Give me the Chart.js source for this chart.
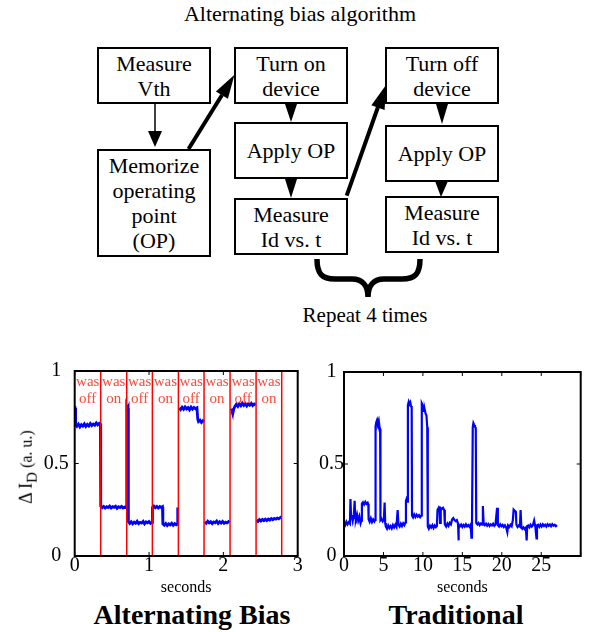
<!DOCTYPE html>
<html>
<head>
<meta charset="utf-8">
<script src="https://cdn.jsdelivr.net/npm/chart.js@4"></script>
<style>
  body { margin: 0; background: #fff; font-family: 'Liberation Serif', serif; color: #000; }
  #page { position: relative; width: 595px; height: 632px; overflow: hidden; }
  .txt { position: absolute; transform: translate(-50%, -50%); white-space: nowrap; line-height: 1; }
  .box { position: absolute; box-sizing: border-box; border: 2px solid #000; display: flex;
         align-items: center; justify-content: center; text-align: center; font-size: 22px; line-height: 25px; }
  canvas { position: absolute; }
  #flow { position: absolute; left: 0; top: 0; }
</style>
</head>
<body>
<div id="page">
  <div class="txt" style="left:300px; top:14px; font-size:22px;">Alternating bias algorithm</div>

  <div class="box" style="left:97px; top:47px; width:114px; height:57px;">Measure<br>Vth</div>
  <div class="box" style="left:97px; top:149px; width:114px; height:108px;">Memorize<br>operating<br>point<br>(OP)</div>
  <div class="box" style="left:234px; top:47px; width:114px; height:57px;">Turn on<br>device</div>
  <div class="box" style="left:234px; top:122px; width:114px; height:57px;">Apply OP</div>
  <div class="box" style="left:234px; top:198px; width:114px; height:57px;">Measure<br>Id vs. t</div>
  <div class="box" style="left:385px; top:47px; width:114px; height:57px;">Turn off<br>device</div>
  <div class="box" style="left:385px; top:125px; width:114px; height:57px;">Apply OP</div>
  <div class="box" style="left:385px; top:196px; width:114px; height:57px;">Measure<br>Id vs. t</div>

  <svg id="flow" width="595" height="340">
    <!-- Measure Vth -> Memorize -->
    <line x1="155" y1="104" x2="155" y2="133" stroke="#000" stroke-width="1.5"/>
    <polygon points="148,131 162,131 155,147" fill="#000"/>
    <!-- Memorize -> Turn on -->
    <line x1="188.5" y1="149" x2="222" y2="95" stroke="#000" stroke-width="4"/>
    <polygon points="234.5,74.7 227.9,98.8 215.9,91.4" fill="#000"/>
    <!-- column 2 -->
    <polygon points="285,104 297,104 291,122" fill="#000"/>
    <polygon points="285,179 297,179 291,198" fill="#000"/>
    <!-- Measure -> Turn off -->
    <line x1="346.7" y1="195.7" x2="378" y2="107" stroke="#000" stroke-width="4"/>
    <polygon points="386,85 384.6,110 371.4,105.3" fill="#000"/>
    <!-- column 3 -->
    <polygon points="436,104 448,104 442,124" fill="#000"/>
    <polygon points="435,181 448,181 441,197" fill="#000"/>
    <!-- brace -->
    <path d="M 317 259 C 317 274, 322 279, 335 279 L 352 279 C 362 279, 368 285, 368 297 C 368 285, 374 279, 384 279 L 402 279 C 415 279, 420 274, 420 259"
          fill="none" stroke="#000" stroke-width="5.5"/>
  </svg>
  <div class="txt" style="left:365px; top:315px; font-size:21px;">Repeat 4 times</div>

  <canvas id="altChart" width="310" height="247" style="left:0; top:350px;"></canvas>
  <canvas id="tradChart" width="285" height="247" style="left:310px; top:350px;"></canvas>

  <div class="txt" style="left:28px; top:467px; transform: translate(-50%,-50%) rotate(-90deg); font-size:18px;">&Delta; I<sub style="font-size:15px;">D</sub><span style="font-size:16px;"> (a. u.)</span></div>
  <div class="txt" style="left:192px; top:615px; font-size:28px; font-weight:bold;">Alternating Bias</div>
  <div class="txt" style="left:456px; top:615px; font-size:28px; font-weight:bold;">Traditional</div>
</div>

<script>
// Alternating bias: moments when the bias was switched (red lines) and the label of each run
const switchTimes = [0.35, 0.70, 1.045, 1.395, 1.74, 2.09, 2.44, 2.785];
const runLabels = ['was off', 'was on', 'was off', 'was on', 'was off', 'was on', 'was off', 'was on'];

// Alternating bias trace (seconds / ΔI_D), null = no data
const altTime = [
  0, 0.006, 0.012, 0.03, 0.05, 0.07, 0.09, 0.11, 0.13, 0.15, 0.17, 0.19, 0.21, 0.23, 0.25, 0.27, 0.29, 0.31, 0.33, 0.346,
  0.35, 0.37, 0.39, 0.41, 0.43, 0.45, 0.47, 0.49, 0.51, 0.53, 0.55, 0.57, 0.59, 0.61, 0.63, 0.65, 0.67, 0.69, 0.698, 0.70, 0.71, 0.718,
  0.722, 0.74, 0.76, 0.78, 0.80, 0.82, 0.84, 0.86, 0.88, 0.90, 0.92, 0.94, 0.96, 0.98, 1.00, 1.02, 1.04,
  1.046, 1.065, 1.085, 1.105, 1.125, 1.145, 1.165, 1.18, 1.186, 1.205, 1.225, 1.245, 1.265, 1.285, 1.305, 1.325, 1.345, 1.365, 1.38, 1.386,
  1.395,
  1.405, 1.425, 1.445, 1.465, 1.485, 1.505, 1.525, 1.545, 1.565, 1.585, 1.605, 1.625, 1.645, 1.655, 1.665, 1.685, 1.705, 1.725, 1.742,
  1.746,
  1.752, 1.77, 1.79, 1.81, 1.83, 1.85, 1.87, 1.89, 1.91, 1.93, 1.95, 1.97, 1.99, 2.01, 2.03, 2.05, 2.07, 2.085,
  2.095,
  2.105, 2.115, 2.128, 2.14, 2.155, 2.175, 2.195, 2.215, 2.235, 2.255, 2.275, 2.295, 2.315, 2.335, 2.355, 2.375, 2.395, 2.415, 2.435,
  2.44,
  2.446, 2.465, 2.485, 2.505, 2.525, 2.545, 2.565, 2.585, 2.605, 2.625, 2.645, 2.665, 2.685, 2.705, 2.725, 2.745, 2.765, 2.782
];
const altCurrent = [
  0.81, 0.80, 0.712, 0.701, 0.713, 0.698, 0.710, 0.702, 0.714, 0.700, 0.711, 0.703, 0.716, 0.705, 0.713, 0.707, 0.719, 0.709, 0.717, 0.712,
  0.270, 0.261, 0.268, 0.259, 0.266, 0.262, 0.270, 0.260, 0.267, 0.263, 0.269, 0.258, 0.266, 0.262, 0.268, 0.260, 0.265, 0.262, 0.266, 0.805, 0.792, 0.800,
  0.186, 0.176, 0.185, 0.174, 0.183, 0.177, 0.188, 0.175, 0.182, 0.178, 0.187, 0.174, 0.184, 0.179, 0.186, 0.176, 0.182,
  0.262, 0.270, 0.261, 0.268, 0.259, 0.267, 0.262, 0.266, 0.173, 0.166, 0.176, 0.165, 0.174, 0.168, 0.177, 0.166, 0.175, 0.169, 0.173, 0.262,
  null,
  0.800, 0.791, 0.804, 0.793, 0.806, 0.795, 0.802, 0.790, 0.805, 0.794, 0.803, 0.796, 0.801, 0.740, 0.727, 0.734, 0.722, 0.731, 0.725,
  null,
  0.186, 0.177, 0.188, 0.179, 0.185, 0.175, 0.184, 0.180, 0.189, 0.176, 0.185, 0.178, 0.187, 0.177, 0.183, 0.179, 0.186, 0.181,
  null,
  0.797, 0.783, 0.772, 0.795, 0.808, 0.820, 0.809, 0.823, 0.812, 0.826, 0.814, 0.824, 0.811, 0.822, 0.815, 0.825, 0.813, 0.821, 0.816,
  null,
  0.194, 0.187, 0.197, 0.189, 0.198, 0.191, 0.199, 0.192, 0.200, 0.194, 0.202, 0.196, 0.203, 0.199, 0.205, 0.201, 0.208, 0.212
];

// Traditional (constant bias) trace
const tradTime = [
  0, 0.15, 0.3, 0.45, 0.6, 0.75, 0.82, 0.9, 0.95, 1.1, 1.25, 1.35, 1.42, 1.5, 1.65, 1.8, 1.95, 2.1, 2.2, 2.27, 2.4, 2.55, 2.7, 2.85, 3.0, 3.08, 3.12, 3.25, 3.4, 3.55, 3.7, 3.85, 3.95,
  4.0, 4.1, 4.2, 4.3, 4.4, 4.5, 4.58, 4.62, 4.75, 4.9, 5.05, 5.15, 5.22, 5.3, 5.45, 5.6, 5.75, 5.9, 6.05, 6.2, 6.35, 6.5, 6.65, 6.8, 6.9, 7.05, 7.2, 7.35, 7.5, 7.65, 7.78, 7.85, 7.95, 8.05,
  8.1, 8.2, 8.3, 8.4, 8.5, 8.58, 8.62, 8.75, 8.9, 9.05, 9.2, 9.35, 9.5, 9.65, 9.8, 9.86, 9.95, 10.05, 10.15, 10.25, 10.35, 10.45, 10.55, 10.62, 10.75, 10.9,
  11.05, 11.2, 11.35, 11.5, 11.65, 11.78, 11.85, 12.0, 12.12, 12.18, 12.26, 12.4, 12.55, 12.7, 12.78, 12.95, 13.1, 13.25, 13.4, 13.55, 13.7, 13.85, 14.0, 14.15, 14.3, 14.45, 14.5, 14.56, 14.7, 14.85, 15.0, 15.15, 15.3, 15.45, 15.6, 15.75, 15.9, 16.05, 16.15, 16.22,
  16.32, 16.4, 16.5, 16.6, 16.7, 16.76, 16.9, 17.05, 17.2, 17.35, 17.5, 17.6, 17.7, 17.85, 18.0, 18.15, 18.3, 18.45, 18.6, 18.75,
  18.9, 19.05, 19.2, 19.4, 19.5, 19.65, 19.8, 19.95, 20.1, 20.25, 20.4, 20.55, 20.7, 20.8, 20.95, 21.1, 21.25, 21.4, 21.5, 21.65,
  21.78, 21.85, 22.0, 22.15, 22.3, 22.38, 22.48, 22.6, 22.75, 22.9, 23.05, 23.15, 23.22, 23.35, 23.5, 23.65, 23.8, 23.95, 24.1, 24.25,
  24.4, 24.46, 24.6, 24.75, 24.9, 25.05, 25.2, 25.35, 25.5, 25.65, 25.8, 25.95, 26.1, 26.25, 26.4, 26.55, 26.7, 26.85, 27.0
];
const tradCurrent = [
  0.180, 0.168, 0.186, 0.172, 0.184, 0.176, 0.310, 0.205, 0.222, 0.190, 0.226, 0.300, 0.205, 0.198, 0.226, 0.192, 0.215, 0.178, 0.192, 0.285, 0.292, 0.280, 0.294, 0.283, 0.290, 0.282, 0.200, 0.186, 0.205, 0.184, 0.199, 0.188, 0.196,
  0.705, 0.728, 0.740, 0.722, 0.736, 0.700, 0.690, 0.195, 0.203, 0.188, 0.196, 0.290, 0.180, 0.160, 0.148, 0.166, 0.152, 0.163, 0.150, 0.168, 0.155, 0.170, 0.158, 0.250, 0.170, 0.160, 0.176, 0.163, 0.178, 0.168, 0.182, 0.300, 0.312, 0.295,
  0.820, 0.838, 0.826, 0.835, 0.815, 0.805, 0.220, 0.210, 0.226, 0.212, 0.224, 0.214, 0.222, 0.211, 0.220, 0.830, 0.822, 0.795, 0.788, 0.792, 0.772, 0.765, 0.700, 0.160, 0.148, 0.165,
  0.155, 0.168, 0.152, 0.166, 0.157, 0.164, 0.250, 0.262, 0.245, 0.180, 0.260, 0.255, 0.262, 0.250, 0.172, 0.160, 0.176, 0.164, 0.180, 0.172, 0.198, 0.206, 0.196, 0.190, 0.195, 0.175, 0.085, 0.170, 0.162, 0.171, 0.158, 0.169, 0.160, 0.172, 0.161, 0.168, 0.159, 0.170, 0.100, 0.168,
  0.700, 0.722, 0.712, 0.703, 0.695, 0.180, 0.172, 0.180, 0.168, 0.177, 0.170, 0.272, 0.178, 0.168, 0.176, 0.165, 0.174, 0.163, 0.172, 0.166,
  0.175, 0.164, 0.171, 0.262, 0.168, 0.160, 0.172, 0.162, 0.169, 0.158, 0.167, 0.156, 0.130, 0.166, 0.158, 0.170, 0.162, 0.195, 0.252, 0.245,
  0.240, 0.170, 0.158, 0.166, 0.160, 0.250, 0.158, 0.148, 0.156, 0.146, 0.154, 0.085, 0.160, 0.166, 0.156, 0.170, 0.160, 0.168, 0.192, 0.160,
  0.095, 0.166, 0.170, 0.158, 0.171, 0.160, 0.172, 0.163, 0.170, 0.160, 0.172, 0.164, 0.171, 0.162, 0.173, 0.165, 0.170, 0.162, 0.168
];

const FONT = 'Liberation Serif';
Chart.defaults.font.family = FONT;
Chart.defaults.color = '#000';

// MATLAB-like box with inward ticks on all four sides
const framePlugin = {
  id: 'frame',
  afterDraw(chart) {
    const { ctx, chartArea: a, scales: { x, y } } = chart;
    ctx.save();
    ctx.strokeStyle = '#000';
    ctx.lineWidth = 1;
    ctx.beginPath();
    x.ticks.forEach(t => {
      const px = x.getPixelForValue(t.value);
      ctx.moveTo(px, a.bottom); ctx.lineTo(px, a.bottom - 4);
      ctx.moveTo(px, a.top); ctx.lineTo(px, a.top + 4);
    });
    y.ticks.forEach(t => {
      const py = y.getPixelForValue(t.value);
      ctx.moveTo(a.left, py); ctx.lineTo(a.left + 4, py);
      ctx.moveTo(a.right, py); ctx.lineTo(a.right - 4, py);
    });
    ctx.stroke();
    ctx.lineWidth = 2;
    ctx.strokeRect(a.left, a.top, a.right - a.left, a.bottom - a.top);
    ctx.restore();
  }
};

// "was off / was on" in the middle of every run
const runLabelPlugin = {
  id: 'runLabels',
  afterDatasetsDraw(chart) {
    const { ctx, chartArea: a, scales: { x } } = chart;
    ctx.save();
    ctx.fillStyle = '#ff4a3a';
    ctx.font = '15px "' + FONT + '"';
    ctx.textAlign = 'center';
    ctx.textBaseline = 'middle';
    runLabels.forEach((label, i) => {
      const start = i === 0 ? 0 : switchTimes[i - 1];
      const px = x.getPixelForValue((start + switchTimes[i]) / 2);
      const words = label.split(' ');
      ctx.fillText(words[0], px, a.top + 11);
      ctx.fillText(words[1], px, a.top + 28);
    });
    ctx.restore();
  }
};

function toPoints(times, values) {
  return times.map((t, i) => ({ x: t, y: values[i] }));
}

function axes(xMax, xStep, yPad, yWidth) {
  return {
    x: {
      type: 'linear', min: 0, max: xMax,
      grid: { display: false, drawTicks: false },
      border: { display: false },
      ticks: {
        stepSize: xStep, padding: 0, maxRotation: 0, autoSkip: false,
        font: { size: 20, lineHeight: 1 },
        callback: v => (v === 30 ? '' : String(v))
      },
      title: { display: true, text: 'seconds', padding: 0, font: { size: 16 } },
      afterFit: s => { s.height = 41; }
    },
    y: {
      min: 0, max: 1,
      grid: { display: false, drawTicks: false },
      border: { display: false },
      ticks: {
        stepSize: 0.5, padding: yPad, crossAlign: 'center',
        font: { size: 20, lineHeight: 1 },
        callback: v => String(v)
      },
      afterFit: s => { s.width = yWidth; }
    }
  };
}

const baseOptions = {
  responsive: false,
  animation: false,
  events: [],
  plugins: { legend: { display: false }, tooltip: { enabled: false } }
};

// Alternating bias chart
const redLines = switchTimes.map(t => ({
  data: [{ x: t, y: 0 }, { x: t, y: 1 }],
  borderColor: '#ff0000',
  borderWidth: 1.5,
  pointRadius: 0,
  order: 0
}));

new Chart(document.getElementById('altChart'), {
  type: 'line',
  data: {
    datasets: [
      ...redLines,
      {
        data: toPoints(altTime, altCurrent),
        borderColor: '#0000ff',
        borderWidth: 2.8,
        pointRadius: 0,
        spanGaps: false,
        order: 1
      }
    ]
  },
  options: {
    ...baseOptions,
    layout: { padding: { left: 0, right: 12.3, top: 21, bottom: 0 } },
    scales: axes(3, 1, 6, 74.7)
  },
  plugins: [runLabelPlugin, framePlugin]
});

// Traditional chart
new Chart(document.getElementById('tradChart'), {
  type: 'line',
  data: {
    datasets: [{
      data: toPoints(tradTime, tradCurrent),
      borderColor: '#0000ff',
      borderWidth: 2.2,
      pointRadius: 0
    }]
  },
  options: {
    ...baseOptions,
    layout: { padding: { left: 0, right: 14.3, top: 22, bottom: 0 } },
    scales: axes(30, 5, 0, 34)
  },
  plugins: [framePlugin]
});
</script>
</body>
</html>
